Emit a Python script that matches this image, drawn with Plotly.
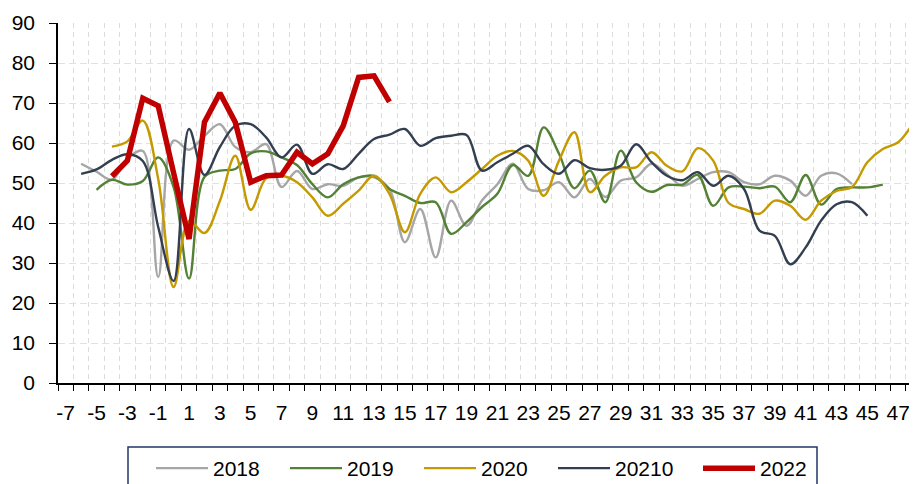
import plotly.graph_objects as go

# ---- data ----
tick_labels = list(range(-7, 48, 2))
categories = list(range(-7, 49))

weeks_2018 = list(range(-6, 45))
vals_2018 = [54.8, 52.8, 50.8, 56.0, 58.0, 26.5, 60.6, 58.3, 61.8, 64.7, 59.0, 57.7, 59.7, 49.0,
             53.0, 48.5, 49.7, 49.3, 51.4, 51.4, 48.5, 35.2, 43.5, 31.4, 45.6, 39.3, 45.6, 49.7,
             54.8, 48.5, 48.2, 50.2, 46.4, 51.0, 46.5, 50.6, 51.4, 54.8, 52.2, 49.3, 51.0, 52.7,
             52.7, 50.2, 49.7, 51.8, 50.6, 46.8, 51.8, 52.4, 49.7]

weeks_2019 = list(range(-5, 47))
vals_2019 = [48.3, 50.8, 49.6, 50.5, 56.4, 49.0, 26.1, 51.5, 53.1, 53.5, 57.4, 57.9, 56.4, 54.5,
             49.7, 46.4, 49.7, 51.4, 51.8, 48.5, 46.8, 45.0, 45.2, 37.3, 40.2, 44.0, 47.3, 54.5,
             51.8, 63.9, 57.3, 48.7, 53.1, 45.2, 58.1, 50.2, 47.8, 49.5, 49.6, 52.0, 44.3, 48.9,
             49.1, 48.7, 49.1, 45.2, 52.0, 44.6, 48.5, 48.9, 48.9, 49.6]

weeks_2020 = list(range(-4, 49))
vals_2020 = [59.1, 60.4, 65.6, 51.0, 24.0, 40.5, 37.5, 45.5, 56.8, 43.3, 51.2, 51.8, 50.2, 46.4,
             41.8, 44.8, 48.1, 51.8, 47.3, 37.7, 47.3, 51.4, 47.7, 50.2, 53.5, 56.8, 58.0, 55.6,
             46.8, 55.6, 62.7, 47.7, 51.8, 53.9, 53.9, 57.7, 54.3, 52.9, 58.7, 55.6, 45.0, 43.5,
             42.3, 45.6, 44.3, 40.8, 45.6, 48.0, 49.0, 55.2, 58.5, 60.2, 65.2]

weeks_2021 = list(range(-6, 46))
vals_2021 = [52.3, 53.4, 55.8, 57.2, 55.5, 39.0, 25.5, 63.5, 52.0, 59.0, 64.3, 64.7, 61.4, 56.4,
             59.6, 52.3, 54.7, 53.5, 57.3, 61.0, 62.1, 63.5, 59.3, 61.2, 61.8, 62.0, 53.1, 55.2,
             57.3, 59.3, 54.7, 52.3, 55.7, 53.7, 53.3, 54.3, 59.7, 55.2, 51.8, 50.7, 52.7, 49.3,
             51.8, 48.5, 38.1, 36.8, 29.7, 33.9, 40.6, 44.7, 45.2, 41.8]

weeks_2022 = list(range(-4, 15))
vals_2022 = [51.7, 55.6, 71.2, 69.3, 52.5, 36.0, 65.2, 72.5, 65.2, 50.2, 51.8, 52.0, 57.7, 54.8,
             57.3, 64.3, 76.4, 76.8, 70.3]

series_names = ["2018", "2019", "2020", "20210", "2022"]
series_colors = ["#A6A6A6", "#538135", "#C59A00", "#333F50", "#C00000"]

# ---- figure ----
FONT = "Liberation Sans"
fig = go.Figure()

smooth = [(weeks_2018, vals_2018), (weeks_2019, vals_2019), (weeks_2020, vals_2020), (weeks_2021, vals_2021)]
for (wk, vv), name, col in zip(smooth, series_names[:4], series_colors[:4]):
    fig.add_trace(go.Scatter(
        x=wk, y=vv, name=name, mode="lines",
        line=dict(color=col, width=2.4, shape="spline", smoothing=1.0),
        legendwidth=78 if name == "20210" else 67,
    ))

fig.add_trace(go.Scatter(
    x=weeks_2022, y=vals_2022, name=series_names[4], mode="lines",
    line=dict(color=series_colors[4], width=5.5),
    legendwidth=50,
))

boundaries = [c - 0.5 for c in categories] + [categories[-1] + 0.5]

# the page body adds an 8px offset; the figure is sized to fill the rest of the window
W, H = 909, 476

fig.update_layout(
    width=W, height=H,
    margin=dict(l=50, r=0, t=15, b=101, autoexpand=False),
    plot_bgcolor="white", paper_bgcolor="white",
    font=dict(family=FONT, size=21, color="#000000"),
    showlegend=True,
    legend=dict(
        orientation="h",
        xref="container", yref="container",
        x=143 / W, xanchor="left",
        y=1 - 440 / H, yanchor="top",
        bgcolor="rgba(0,0,0,0)", borderwidth=0,
        font=dict(family=FONT, size=21, color="#000000"),
        itemwidth=52,
    ),
    xaxis=dict(
        range=[-7.5, 48.22],
        tickmode="array", tickvals=tick_labels, ticktext=[str(t) for t in tick_labels],
        ticks="", showgrid=False, zeroline=False,
        showline=True, linecolor="#000000", linewidth=1.5,
        ticklabelstandoff=10,
        automargin=False,
        minor=dict(
            tickmode="array", tickvals=boundaries,
            ticks="outside", ticklen=6, tickwidth=1.2, tickcolor="#000000",
            showgrid=True, gridcolor="#DCDCDC", griddash="5px,4px", gridwidth=1,
        ),
        tickfont=dict(family=FONT, size=21, color="#000000"),
    ),
    yaxis=dict(
        range=[0, 90], tickmode="linear", tick0=0, dtick=10,
        ticks="outside", ticklen=7, tickwidth=1.2, tickcolor="#000000",
        showline=True, linecolor="#000000", linewidth=1.5,
        showgrid=True, gridcolor="#D5E3F3", griddash="7px,4px", gridwidth=1,
        zeroline=False, automargin=False,
        ticklabelstandoff=10,
        tickfont=dict(family=FONT, size=21, color="#000000"),
    ),
    shapes=[dict(
        type="rect", xref="paper", yref="paper",
        x0=(128 - 58) / 859, x1=(817 - 58) / 859,
        y0=(383 - 447) / 360, y1=(383 - 490) / 360,
        line=dict(color="#203864", width=1.5), fillcolor="rgba(0,0,0,0)",
        layer="above",
    )],
)

fig.write_html("out.html")
